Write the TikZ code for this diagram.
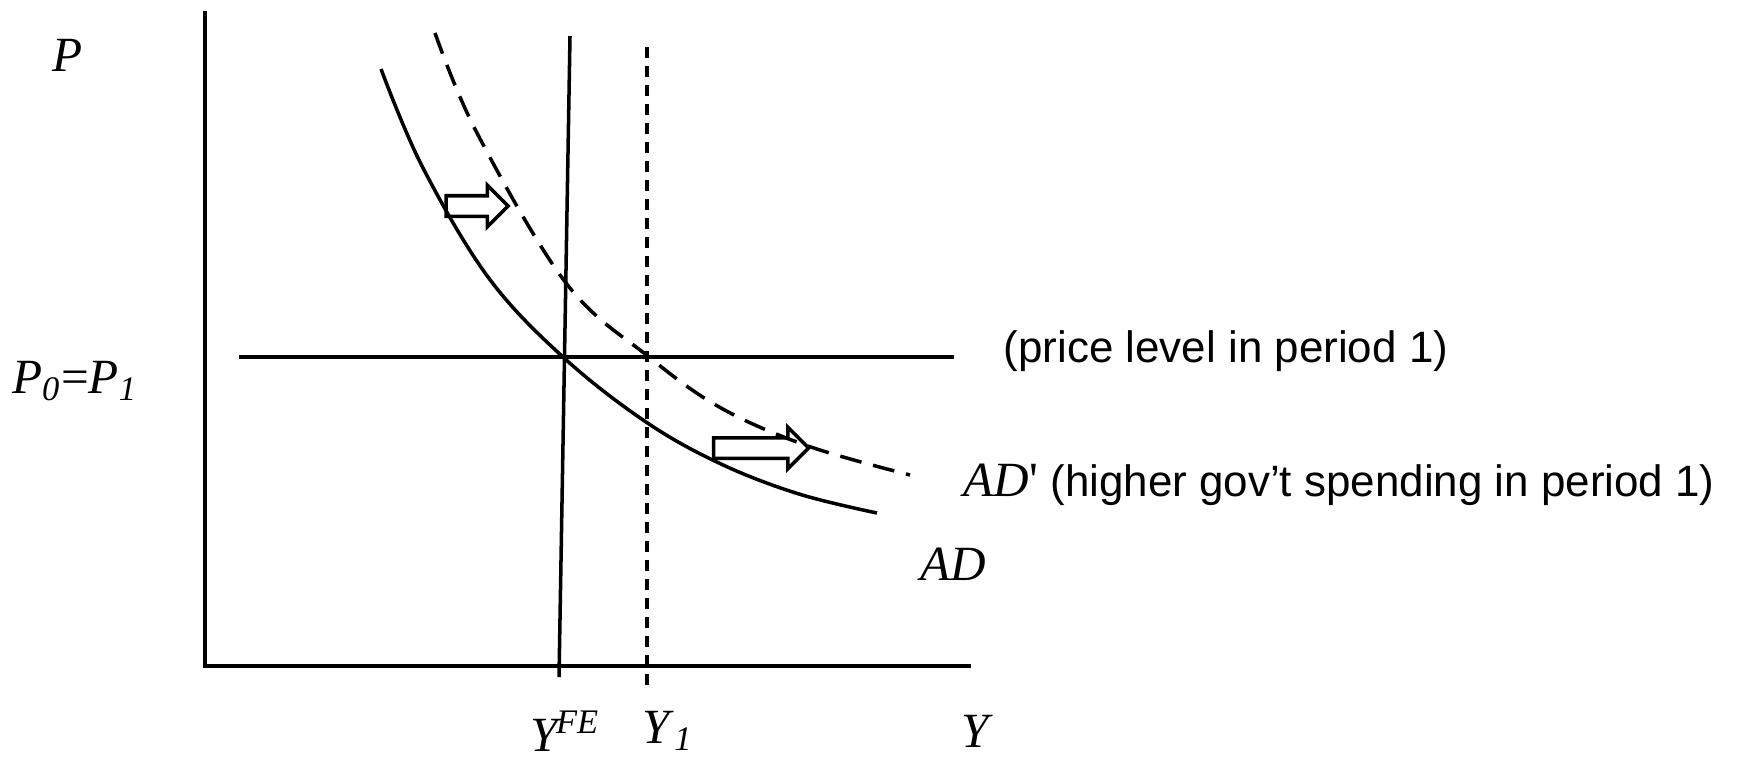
\documentclass[tikz,border=0pt]{standalone}
\usepackage{fontspec}
\setmainfont{Liberation Serif}
\setsansfont{Liberation Sans}
\usetikzlibrary{shapes.arrows, positioning}

\begin{document}
\begin{tikzpicture}[
    x=0.1mm, y=-0.1mm,
    axis/.style={line width=1pt},
    curve/.style={line width=1pt},
    shortdash/.style={line width=1pt, dash pattern=on 1.1mm off 0.8mm},
    longdash/.style={line width=1pt, dash pattern=on 2.2mm off 1.2mm},
    lbl/.style={font=\fontsize{14}{16}\selectfont, inner sep=0pt},
    note/.style={font=\fontsize{12.5}{15}\selectfont\sffamily, inner sep=0pt},
    shiftarrow/.style={single arrow, draw, line width=1pt, inner xsep=0pt, inner ysep=0.85mm,
        minimum width=0pt, single arrow head extend=1.05mm, single arrow head indent=0pt}
]
\useasboundingbox (0,0) rectangle (1740,758);

% axes
\coordinate (origin) at (205,666);
\coordinate (ytop) at (205,11);
\coordinate (xend) at (971,666);
\draw[axis] (ytop) -- (origin) -- (xend);

% price level line and output lines
\coordinate (pstart) at (239,357);
\coordinate (pend) at (954,357);
\draw[curve] (pstart) -- (pend);
\coordinate (fetop) at (570,36);
\coordinate (febot) at (559,677);
\draw[curve] (fetop) -- (febot);
\coordinate (yonetop) at (647,47);
\coordinate (yonebot) at (647,688);
\draw[shortdash] (yonetop) -- (yonebot);

% demand curves
\draw[curve] plot[smooth, tension=0.6] coordinates
    {(381,69) (422,166) (488,277) (563,357) (646,422) (721,464) (799,494) (877,513)};
\draw[longdash] plot[smooth, tension=0.6] coordinates
    {(435,33) (477,133) (566,283) (649,357) (721,408) (808,446) (910,475)};

% shift arrows
\node[shiftarrow, minimum height=6.2mm] (shiftup) at (472,206) {};
\node[shiftarrow, minimum height=9.5mm] (shiftdown) at (756,448) {};

% labels
\node[lbl] (plabel) at (68,55) {\textit{P}};
\node[lbl] (p0label) at (75,381) {\textit{P}\textsubscript{\textit{0}}=\textit{P}\textsubscript{\textit{1}}};
\node[note] (pnote) at (1226,351) {(price level in period 1)};
\node[lbl, anchor=west] (adprime) at (963,485) {\textit{AD}\textquotesingle\ \sffamily\fontsize{12.5}{15}\selectfont(higher gov’t spending in period 1)};
\node[lbl] (adlabel) at (953,564) {\textit{AD}};
\node[lbl] (yfe) at (565,731) {\textit{Y}\kern-0.12em\textsuperscript{\textit{FE}}};
\node[lbl] (yone) at (668,731) {\textit{Y}\textsubscript{\textit{1}}};
\node[lbl] (ylabel) at (977,731) {\textit{Y}};
\end{tikzpicture}
\end{document}
